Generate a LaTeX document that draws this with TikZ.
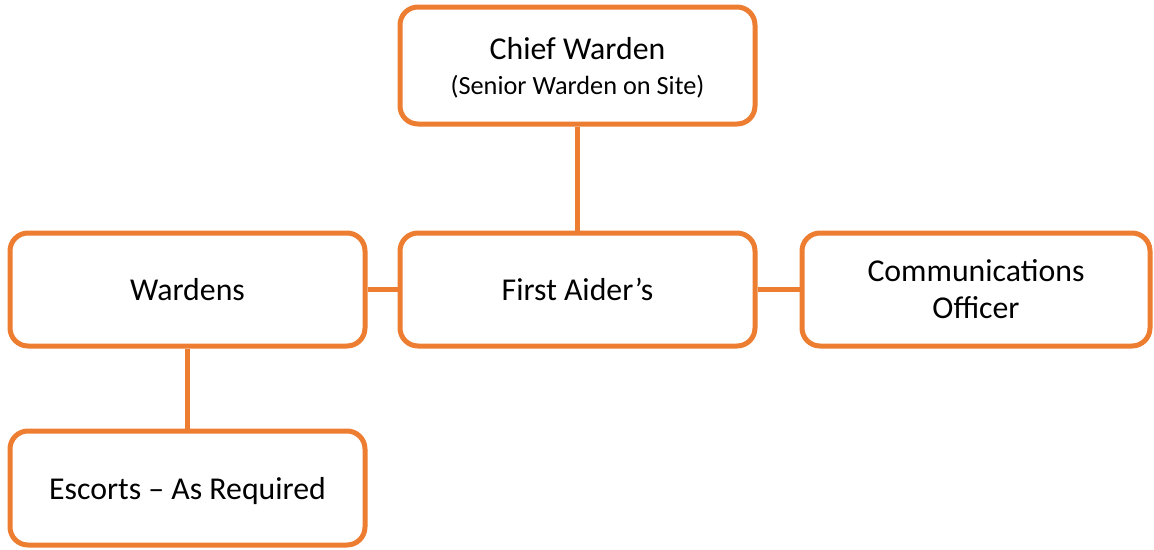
\documentclass[tikz,border=0pt]{standalone}
\usepackage{fontspec}
\setmainfont{Carlito}
\definecolor{boxorange}{HTML}{ED7D31}
\begin{document}
\begin{tikzpicture}[x=1pt,y=-1pt,
  orgbox/.style={draw=boxorange, fill=white, line width=5pt, rounded corners=18pt,
    inner sep=0pt, align=center, minimum height=113pt,
    font=\fontsize{31.8}{37}\selectfont},
  link/.style={draw=boxorange, line width=5pt}]
\useasboundingbox (0,0) rectangle (1154,549);
\node[orgbox, minimum width=355pt, minimum height=117pt, text depth=0pt] (chief) at (577.5,65.5)
  {Chief Warden\\[-2pt]{\fontsize{26.3}{30}\selectfont (Senior Warden on Site)}};
\node[orgbox, minimum width=355pt] (wardens) at (187.5,289.5) {Wardens};
\node[orgbox, minimum width=355pt] (first) at (577.5,289.5) {First Aider’s};
\node[orgbox, minimum width=348pt, text depth=-6pt] (comm) at (976,289.5) {Communications\\Officer};
\node[orgbox, minimum width=355pt, minimum height=114pt, text depth=0pt, text height=22pt] (escorts) at (187.5,488) {Escorts – As Required};
\draw[link] (chief.south) -- (first.north);
\draw[link] (wardens.east) -- (first.west);
\draw[link] (first.east) -- (comm.west);
\draw[link] (wardens.south) -- (escorts.north);
\end{tikzpicture}
\end{document}
